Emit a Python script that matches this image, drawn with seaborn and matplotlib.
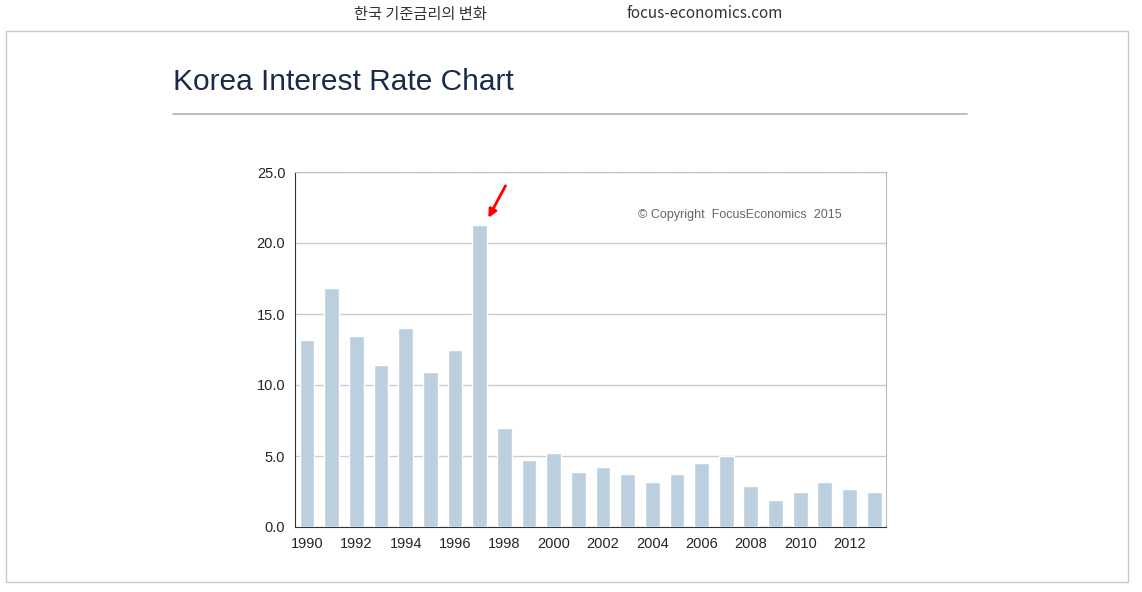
import matplotlib
matplotlib.use("Agg")
import matplotlib.pyplot as plt
import seaborn as sns
import pandas as pd
from matplotlib.patches import Rectangle

years = list(range(1990, 2014))
rates = [13.2, 16.8, 13.45, 11.4, 14.0, 10.9, 12.5, 21.3, 7.0, 4.7, 5.2, 3.9,
         4.2, 3.7, 3.2, 3.7, 4.5, 5.0, 2.9, 1.9, 2.5, 3.2, 2.7, 2.5]
yticks = [0, 5, 10, 15, 20, 25]

df = pd.DataFrame({"year": years, "rate": rates})

sns.set_style("white")
plt.rcParams['font.family'] = ['Noto Sans CJK KR', 'DejaVu Sans']

W, H = 1142, 592
fig = plt.figure(figsize=(W / 100, H / 100), dpi=100)

# outer frame
fig.patches.append(Rectangle((6 / W, 1 - 582 / H), 1122 / W, 551 / H, transform=fig.transFigure,
                             fill=False, edgecolor="#c8c8c8", linewidth=1))
fig.text(420 / W, 1 - 14 / H, "한국 기준금리의 변화", ha="center", va="center", fontsize=11, color="#333333")
fig.text(705 / W, 1 - 14 / H, "focus-economics.com", ha="center", va="center", fontsize=11, color="#333333")
fig.text(173 / W, 1 - 82 / H, "Korea Interest Rate Chart", ha="left", va="center",
         fontsize=21.5, color="#1a2a4a", family=["Liberation Sans", "DejaVu Sans"])
fig.add_artist(plt.Line2D([173 / W, 967 / W], [1 - 114 / H, 1 - 114 / H], color="#b0b0b0", linewidth=1.2))

ax = fig.add_axes([295 / W, 1 - 527 / H, 591 / W, 355 / H])
sns.barplot(data=df, x="year", y="rate", color="#bccfdf", width=0.6, saturation=1, ax=ax, zorder=3)

ax.set_ylim(0, 25)
ax.set_yticks(yticks)
ax.set_yticklabels([f"{v:.1f}" for v in yticks], fontsize=10.5, family=["Liberation Sans"])
ax.set_xticks(range(0, len(years), 2))
ax.set_xticklabels([str(y) for y in years[::2]], fontsize=10.5, family=["Liberation Sans"])
ax.set_xlim(-0.49, len(years) - 0.52)
ax.set_xlabel("")
ax.set_ylabel("")
ax.yaxis.grid(True, color="#cccccc", linewidth=1, zorder=0)
ax.spines["left"].set_color("#333333")
ax.spines["bottom"].set_color("#333333")
ax.spines["right"].set_color("#bbbbbb")
ax.spines["top"].set_color("#bbbbbb")
ax.spines["top"].set_linestyle(":")
ax.tick_params(axis="both", length=0, pad=7)

ax.text(0.925, 0.88, "© Copyright  FocusEconomics  2015", transform=ax.transAxes, ha="right",
        va="center", fontsize=9, color="#666666", family=["Liberation Sans"])
ax.annotate("", xy=(7.3, 21.6), xytext=(8.1, 24.2),
            arrowprops=dict(arrowstyle="-|>", color="red", lw=2, mutation_scale=12), annotation_clip=False)

fig.savefig("out.png", dpi=100)
